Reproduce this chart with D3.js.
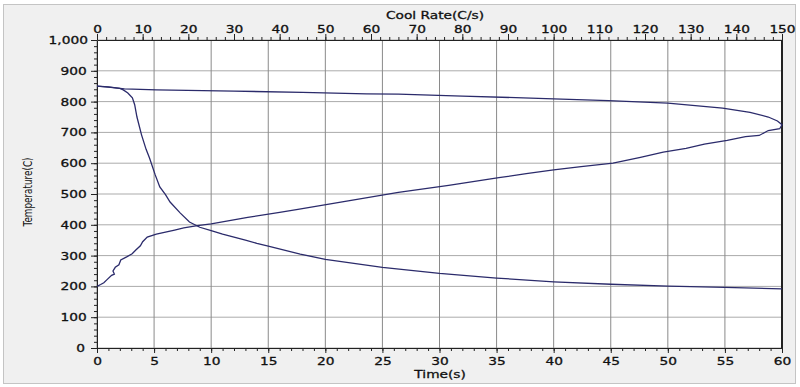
<!DOCTYPE html>
<html>
<head>
<meta charset="utf-8">
<title>Cooling curve</title>
<script src="https://d3js.org/d3.v7.min.js"></script>
<style>
  body { margin: 0; background: #fff; }
  .axis text, .lbl { font-family: "DejaVu Sans", sans-serif; font-size: 11px; fill: #111;
    stroke: #111; stroke-width: 0.3px;
    transform-box: fill-box; transform-origin: center; transform: scaleX(1.25); }
  .axis path, .axis line { stroke: #222; }
</style>
</head>
<body>
<div id="chart"></div>
<script>
// time curve: temperature vs time (bottom axis)
var timeS    = [0, 1, 2, 2.3, 2.7, 3.1, 3.3, 3.5, 3.9, 4.3, 4.6, 5.1, 5.5, 6, 6.4, 7.3, 8.1, 9, 10, 11, 12, 13, 14, 15, 17.8, 20, 25, 30, 35, 40, 45, 50, 55, 60];
var tempTime = [850, 848, 843, 838, 828, 812, 790, 750, 692, 645, 617, 562, 523, 498, 474, 438, 409, 392, 381, 370, 360, 350, 340, 331, 305, 288, 262, 242, 227, 215, 207, 201, 197, 192];

// cool rate curve: temperature vs cool rate (top axis), followed from start to end
var coolRate = [0, 3, 6, 13, 30, 45, 59, 66, 80, 100, 112, 125, 137, 143, 147, 149, 150, 149.5, 147, 145, 142, 138, 133, 129, 124, 119, 113, 106, 100, 94, 88, 77, 66, 55, 44, 40, 33, 25, 22, 19, 17, 13, 11, 10, 9.5, 8.5, 7.7, 6.5, 5.2, 4.8, 4, 3.5, 3.8, 3.2, 2.2, 1.5, 0.8, 0];
var tempCool = [850, 846, 841, 838, 834, 830, 825, 824, 818, 809, 803, 795, 779, 765, 750, 737, 725, 712, 706, 690, 686, 674, 662, 648, 636, 619, 600, 589, 578, 566, 553, 528, 505, 478, 450, 440, 424, 403, 397, 390, 383, 370, 360, 345, 332, 318, 306, 296, 286, 270, 262, 250, 240, 236, 222, 212, 206, 200];

var timeTicks = d3.range(0, 61, 5);
var rateTicks = d3.range(0, 151, 10);
var tempTicks = d3.range(0, 1001, 100);

var W = 800, H = 387;
var pL = 97, pR = 782, pT = 40, pB = 348;

var svg = d3.select("#chart").append("svg").attr("width", W).attr("height", H);

// panel
svg.append("rect").attr("x", 3.5).attr("y", 4.5).attr("width", 792).attr("height", 379)
  .attr("fill", "#f0f0f0").attr("stroke", "#c4c4c4");
svg.append("rect").attr("x", pL).attr("y", pT).attr("width", pR - pL).attr("height", pB - pT)
  .attr("fill", "#fff");

var x = d3.scaleLinear().domain([0, 60]).range([pL, pR]);
var x2 = d3.scaleLinear().domain([0, 150]).range([pL, pR]);
var y = d3.scaleLinear().domain([0, 1000]).range([pB, pT]);

// grid
svg.append("g").selectAll("line").data(tempTicks).join("line")
  .attr("x1", pL).attr("x2", pR).attr("y1", d => y(d)).attr("y2", d => y(d))
  .attr("stroke", "#ababab").attr("stroke-width", 1);
svg.append("g").selectAll("line").data(timeTicks).join("line")
  .attr("y1", pT).attr("y2", pB).attr("x1", d => x(d)).attr("x2", d => x(d))
  .attr("stroke", "#8a8a8a").attr("stroke-width", 1);

// minor ticks
svg.append("g").attr("class", "axis").attr("transform", "translate(0," + pB + ")")
  .call(d3.axisBottom(x).tickValues(d3.range(0, 61, 1)).tickSize(3).tickFormat(""))
  .call(g => g.select(".domain").remove());
svg.append("g").attr("class", "axis").attr("transform", "translate(0," + pT + ")")
  .call(d3.axisTop(x2).tickValues(d3.range(0, 151, 2)).tickSize(3).tickFormat(""))
  .call(g => g.select(".domain").remove());
svg.append("g").attr("class", "axis").attr("transform", "translate(" + pL + ",0)")
  .call(d3.axisLeft(y).tickValues(d3.range(0, 1001, 20)).tickSize(3).tickFormat(""))
  .call(g => g.select(".domain").remove());

// major axes
svg.append("g").attr("class", "axis").attr("transform", "translate(0," + pB + ")")
  .call(d3.axisBottom(x).tickValues(timeTicks).tickSize(5).tickSizeOuter(0).tickPadding(4));
svg.append("g").attr("class", "axis").attr("transform", "translate(0," + pT + ")")
  .call(d3.axisTop(x2).tickValues(rateTicks).tickSize(6).tickSizeOuter(0).tickPadding(1));
svg.append("g").attr("class", "axis").attr("transform", "translate(" + pL + ",0)")
  .call(d3.axisLeft(y).tickValues(tempTicks).tickFormat(d3.format(",")).tickSize(6).tickSizeOuter(0).tickPadding(7));
svg.append("line").attr("x1", pR).attr("x2", pR).attr("y1", pT).attr("y2", pB)
  .attr("stroke", "#222").attr("stroke-width", 2);

// curves
var lineT = d3.line().x((d, i) => x(timeS[i])).y(d => y(d));
var lineC = d3.line().x((d, i) => x2(coolRate[i])).y(d => y(d));
svg.append("path").attr("d", lineT(tempTime)).attr("fill", "none")
  .attr("stroke", "#2b2b6b").attr("stroke-width", 1.3);
svg.append("path").attr("d", lineC(tempCool)).attr("fill", "none")
  .attr("stroke", "#2b2b6b").attr("stroke-width", 1.3);

// labels
svg.append("text").attr("class", "lbl").attr("x", 435).attr("y", 19).attr("text-anchor", "middle")
  .text("Cool Rate(C/s)");
svg.append("text").attr("class", "lbl").attr("x", 440).attr("y", 378).attr("text-anchor", "middle")
  .text("Time(s)");
svg.append("text").attr("transform", "translate(32,192) rotate(-90)")
  .attr("text-anchor", "middle").attr("font-family", "DejaVu Sans, sans-serif").attr("font-size", "12px")
  .attr("fill", "#111")
  .attr("textLength", 69).attr("lengthAdjust", "spacingAndGlyphs")
  .text("Temperature(C)");
</script>
</body>
</html>
